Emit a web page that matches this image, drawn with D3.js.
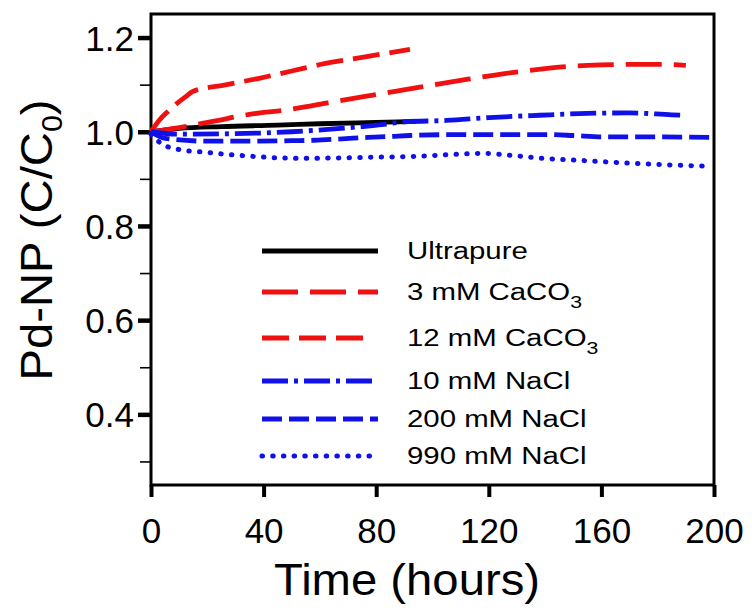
<!DOCTYPE html>
<html>
<head>
<meta charset="utf-8">
<script src="https://cdn.jsdelivr.net/npm/d3@7"></script>
<style>
  html, body { margin: 0; padding: 0; background: #fff; }
  svg { display: block; }
  text { font-family: "Liberation Sans", Arial, sans-serif; fill: #000; }
</style>
</head>
<body>
<svg id="chart" width="752" height="613"></svg>
<script>
// Time axis ticks (hours) and concentration ticks (C/C0)
const xTicks = [0, 40, 80, 120, 160, 200];
const yMajorTicks = [0.4, 0.6, 0.8, 1.0, 1.2];
const yMinorTicks = [0.3, 0.5, 0.7, 0.9, 1.1];

// Series: sampling times (h) and normalised Pd-NP concentration
const tUltrapure = [0, 10, 25, 45, 60, 80, 94];
const vUltrapure = [1.0, 1.007, 1.011, 1.014, 1.017, 1.020, 1.022];

const tCa3 = [0, 10, 22, 35, 50, 65, 80, 95, 110, 125, 140, 155, 170, 183, 190];
const vCa3 = [1.0, 1.009, 1.022, 1.037, 1.048, 1.064, 1.079, 1.094, 1.109, 1.123, 1.134, 1.141, 1.143, 1.143, 1.141];

const tCa12 = [0, 3, 6, 9, 12, 15, 26, 38, 50, 62, 75, 92];
const vCa12 = [1.0, 1.025, 1.043, 1.059, 1.073, 1.086, 1.099, 1.113, 1.129, 1.145, 1.158, 1.175];

const tNa10 = [0, 10, 30, 50, 65, 75, 82, 90, 105, 120, 138, 155, 170, 185, 190];
const vNa10 = [1.0, 0.995, 0.996, 1.000, 1.006, 1.011, 1.015, 1.021, 1.024, 1.030, 1.035, 1.039, 1.040, 1.036, 1.035];

const tNa200 = [0, 5, 20, 35, 50, 58, 68, 77, 85, 92, 110, 125, 140, 150, 160, 180, 200];
const vNa200 = [1.0, 0.986, 0.980, 0.980, 0.981, 0.982, 0.985, 0.988, 0.990, 0.992, 0.994, 0.994, 0.994, 0.992, 0.989, 0.989, 0.988];

const tNa990 = [0, 2, 4, 8, 12, 16, 20, 25, 31, 38, 48, 62, 80, 95, 108, 118, 128, 138, 153, 171, 197];
const vNa990 = [0.995, 0.983, 0.973, 0.965, 0.960, 0.958, 0.956, 0.953, 0.950, 0.947, 0.944, 0.944, 0.946, 0.948, 0.952, 0.954, 0.950, 0.944, 0.939, 0.933, 0.927];

// Legend entries (label, subscript)
const legendLabels = ["Ultrapure", "3 mM CaCO", "12 mM CaCO", "10 mM NaCl", "200 mM NaCl", "990 mM NaCl"];
const legendSubs = ["", "3", "3", "", "", ""];

const series = [
  { t: tUltrapure, v: vUltrapure, color: "#000000", dash: null, cap: "butt", legendEnd: 378, legendY: 251 },
  { t: tCa3, v: vCa3, color: "#f01010", dash: "36,12", cap: "butt", legendEnd: 378, legendY: 292 },
  { t: tCa12, v: vCa12, color: "#f01010", dash: "27,10", cap: "butt", legendEnd: 365, legendY: 338 },
  { t: tNa10, v: vNa10, color: "#1010e8", dash: "26,6,4,6", cap: "butt", legendEnd: 376, legendY: 381 },
  { t: tNa200, v: vNa200, color: "#1010e8", dash: "20,7", cap: "butt", legendEnd: 378, legendY: 419 },
  { t: tNa990, v: vNa990, color: "#1010e8", dash: "0.5,10.2", cap: "round", legendEnd: 376, legendY: 456 }
];

const svg = d3.select("#chart");
const mLeft = 151, mRight = 714, mTop = 14, mBottom = 485;

const x = d3.scaleLinear().domain([0, 200]).range([mLeft, mRight]);
const y = d3.scaleLinear().domain([0.25, 1.25]).range([mBottom, mTop]);

// Frame
svg.append("rect")
  .attr("x", mLeft).attr("y", mTop)
  .attr("width", mRight - mLeft).attr("height", mBottom - mTop)
  .attr("fill", "none").attr("stroke", "#000").attr("stroke-width", 3);

// X axis ticks
const xAxis = svg.append("g")
  .attr("transform", `translate(0,${mBottom})`)
  .call(d3.axisBottom(x).tickValues(xTicks).tickSize(12).tickFormat(d3.format("d")));
xAxis.select(".domain").remove();
xAxis.selectAll(".tick line").attr("stroke", "#000").attr("stroke-width", 4);
xAxis.selectAll(".tick text")
  .attr("x", null).attr("y", null).attr("dy", null)
  .attr("font-size", 35)
  .attr("transform", "translate(0,58)");

// Y axis: major ticks with labels
const yAxis = svg.append("g")
  .attr("transform", `translate(${mLeft},0)`)
  .call(d3.axisLeft(y).tickValues(yMajorTicks).tickSize(13).tickFormat(d3.format(".1f")));
yAxis.select(".domain").remove();
yAxis.selectAll(".tick line").attr("stroke", "#000").attr("stroke-width", 4.5);
yAxis.selectAll(".tick text")
  .attr("x", null).attr("dy", "0.36em")
  .attr("font-size", 35)
  .attr("transform", "translate(-17,0)");

// Y axis: minor ticks
const yMinor = svg.append("g")
  .attr("transform", `translate(${mLeft},0)`)
  .call(d3.axisLeft(y).tickValues(yMinorTicks).tickSize(11).tickFormat(""));
yMinor.select(".domain").remove();
yMinor.selectAll(".tick line").attr("stroke", "#000").attr("stroke-width", 1.6);

// Axis titles
svg.append("text")
  .attr("transform", "translate(407,595) scale(1.05,1)")
  .attr("text-anchor", "middle").attr("font-size", 45)
  .text("Time (hours)");

const yTitle = svg.append("text")
  .attr("transform", "translate(52,240) rotate(-90) scale(1.05,1)")
  .attr("text-anchor", "middle").attr("font-size", 45);
yTitle.append("tspan").text("Pd-NP (C/C");
yTitle.append("tspan").attr("font-size", 29).attr("dy", 10).text("0");
yTitle.append("tspan").attr("dy", -10).text(")");

// Data lines
const line = d3.line().curve(d3.curveMonotoneX);
series.forEach(s => {
  const pts = s.t.map((t, i) => [x(t), y(s.v[i])]);
  svg.append("path")
    .attr("d", line(pts))
    .attr("fill", "none")
    .attr("stroke", s.color)
    .attr("stroke-width", s.cap === "round" ? 5 : 4.8)
    .attr("stroke-linecap", s.cap)
    .attr("stroke-dasharray", s.dash);
});

// Legend
const legend = svg.append("g");
series.forEach((s, i) => {
  legend.append("line")
    .attr("x1", 262).attr("x2", s.legendEnd)
    .attr("y1", s.legendY).attr("y2", s.legendY)
    .attr("stroke", s.color)
    .attr("stroke-width", s.cap === "round" ? 5 : 4.8)
    .attr("stroke-linecap", s.cap)
    .attr("stroke-dasharray", s.dash);
  const txt = legend.append("text")
    .attr("transform", `translate(407,${s.legendY + 8}) scale(1.25,1)`)
    .attr("font-size", 23.5);
  txt.append("tspan").text(legendLabels[i]);
  if (legendSubs[i]) {
    txt.append("tspan").attr("font-size", 17).attr("dy", 8).text(legendSubs[i]);
  }
});
</script>
</body>
</html>
